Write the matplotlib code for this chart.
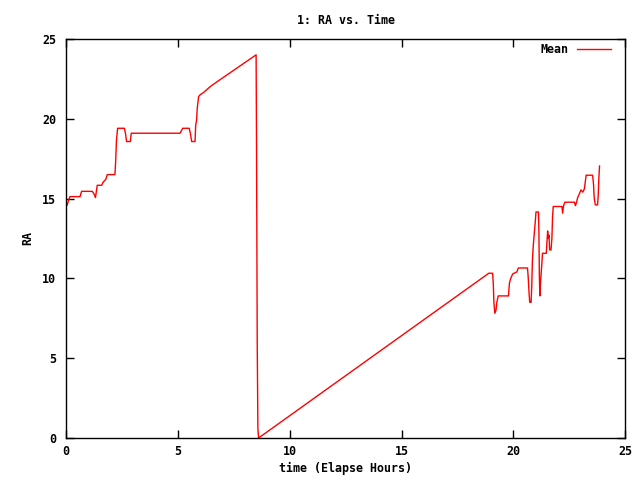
import matplotlib
matplotlib.use('Agg')
import matplotlib.pyplot as plt

# -------------------------
# Data, (elapsed hours, RA) pairs
# -------------------------

mean_points = [
    (0.00, 14.5), (0.06, 14.6), (0.10, 14.8), (0.18, 15.12), (0.63, 15.12),
    (0.70, 15.45), (1.18, 15.45), (1.25, 15.3), (1.32, 15.06), (1.40, 15.83),
    (1.60, 15.83), (1.65, 16.0), (1.78, 16.2), (1.85, 16.5), (2.19, 16.5),
    (2.22, 17.25), (2.26, 18.67), (2.31, 19.4), (2.61, 19.4), (2.66, 19.1),
    (2.71, 18.57), (2.88, 18.57), (2.92, 19.09), (5.10, 19.09), (5.22, 19.4),
    (5.51, 19.4), (5.56, 19.1), (5.62, 18.57), (5.77, 18.57), (5.80, 19.6),
    (5.84, 19.9), (5.87, 20.66), (5.93, 21.38), (6.00, 21.5), (6.15, 21.64),
    (6.44, 22.0), (6.74, 22.3), (8.50, 24.0), (8.52, 18.05), (8.55, 5.93),
    (8.58, 0.6), (8.61, 0.0), (18.90, 10.32), (19.07, 10.32),
    (19.10, 9.69), (19.13, 8.44), (19.17, 7.81), (19.22, 8.0), (19.26, 8.5),
    (19.32, 8.9), (19.78, 8.9), (19.82, 9.69), (19.88, 10.0), (19.97, 10.28),
    (20.15, 10.4), (20.22, 10.65), (20.63, 10.65), (20.66, 10.1), (20.70, 9.07),
    (20.73, 8.5), (20.79, 8.5), (20.82, 9.5), (20.85, 11.15), (20.89, 12.09),
    (20.92, 12.6), (20.98, 13.6), (21.01, 14.16), (21.12, 14.16), (21.14, 12.9),
    (21.16, 10.2), (21.18, 8.9), (21.21, 9.7), (21.24, 10.3), (21.27, 10.9),
    (21.30, 11.57), (21.47, 11.57), (21.50, 12.3), (21.53, 12.97), (21.56, 12.5),
    (21.59, 12.7), (21.62, 11.78), (21.68, 11.78), (21.72, 12.5), (21.75, 13.87),
    (21.78, 14.5), (22.17, 14.5), (22.20, 14.08), (22.24, 14.55), (22.30, 14.77),
    (22.73, 14.77), (22.77, 14.55), (22.83, 14.8), (22.87, 15.06), (22.95, 15.3),
    (23.02, 15.54), (23.10, 15.4), (23.17, 15.6), (23.21, 16.02), (23.25, 16.46),
    (23.54, 16.46), (23.58, 15.9), (23.61, 15.06), (23.66, 14.6), (23.76, 14.6),
    (23.79, 15.18), (23.82, 16.3), (23.85, 17.04),
]

time_hours = [p[0] for p in mean_points]
ra_mean = [p[1] for p in mean_points]

# -------------------------
# Plot
# -------------------------

plt.rcParams['font.family'] = ['DejaVu Sans Mono']
plt.rcParams['font.weight'] = 'bold'
fs = 8.4

fig = plt.figure(figsize=(6.4, 4.8), dpi=100)
ax = fig.add_axes([0.103, 0.0875, 0.874, 0.8315])

ax.plot(time_hours, ra_mean, color='red', linewidth=1.0, label='Mean')

ax.set_xlim(0, 25)
ax.set_ylim(0, 25)
ax.set_xticks(range(0, 26, 5))
ax.set_yticks(range(0, 26, 5))

ax.tick_params(direction='in', length=6, width=1, top=True, right=True,
               labelsize=fs)
ax.tick_params(axis='y', pad=7)
ax.tick_params(axis='x', pad=5)
for side in ax.spines.values():
    side.set_linewidth(1.0)

ax.set_title('1: RA vs. Time', fontsize=fs, fontweight='bold', pad=11)
ax.set_xlabel('time (Elapse Hours)', fontsize=fs, fontweight='bold', labelpad=3)
ax.set_ylabel('RA', fontsize=fs, fontweight='bold', labelpad=6)

leg = ax.legend(loc='upper right', frameon=False, fontsize=fs,
                markerfirst=False, handlelength=2.9, handletextpad=0.8,
                borderpad=0, borderaxespad=0,
                bbox_to_anchor=(1 - 14 / 559, 1 - 4 / 399))

fig.savefig('out.png', dpi=100)
